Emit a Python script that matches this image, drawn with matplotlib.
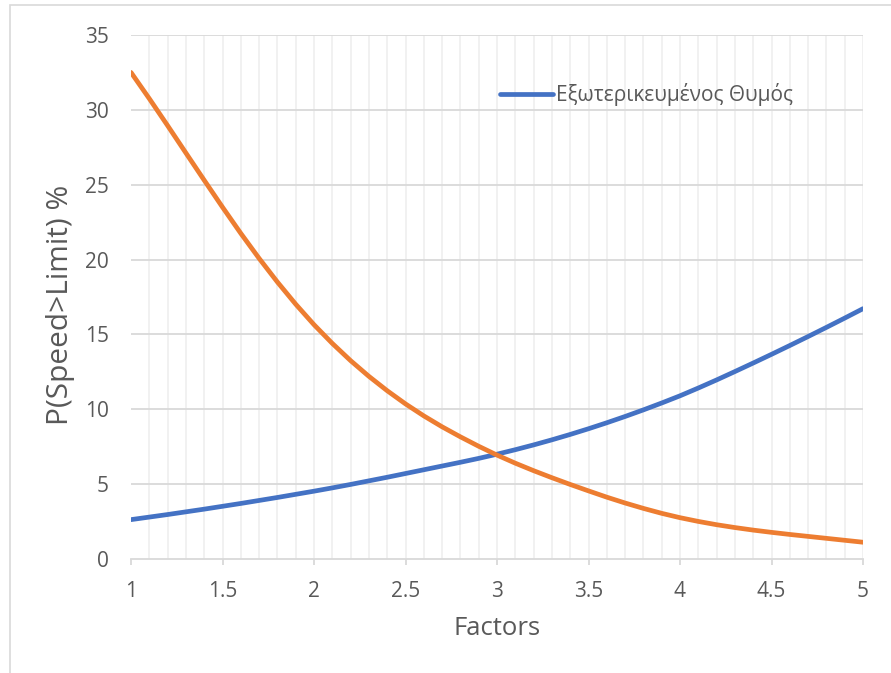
import numpy as np
import matplotlib
matplotlib.use("Agg")
import matplotlib.pyplot as plt
from matplotlib.patches import Rectangle

plt.rcParams['font.family'] = ['Open Sans', 'DejaVu Sans']

# data (step 0.1)
factors = [1.0, 1.1, 1.2, 1.3, 1.4, 1.5, 1.6, 1.7, 1.8, 1.9,
           2.0, 2.1, 2.2, 2.3, 2.4, 2.5, 2.6, 2.7, 2.8, 2.9,
           3.0, 3.1, 3.2, 3.3, 3.4, 3.5, 3.6, 3.7, 3.8, 3.9,
           4.0, 4.1, 4.2, 4.3, 4.4, 4.5, 4.6, 4.7, 4.8, 4.9, 5.0]
thymos = [2.63, 2.80, 2.97, 3.15, 3.33, 3.52, 3.71, 3.91, 4.11, 4.32,
          4.53, 4.75, 4.98, 5.22, 5.46, 5.71, 5.96, 6.21, 6.46, 6.72,
          7.00, 7.30, 7.62, 7.96, 8.32, 8.70, 9.10, 9.52, 9.96, 10.42,
          10.90, 11.42, 11.96, 12.52, 13.09, 13.67, 14.26, 14.86, 15.47, 16.09, 16.72]
other = [32.50, 30.75, 28.95, 27.12, 25.30, 23.50, 21.75, 20.08, 18.50, 17.02,
         15.65, 14.40, 13.25, 12.20, 11.24, 10.36, 9.56, 8.83, 8.16, 7.53,
         6.94, 6.40, 5.90, 5.43, 4.98, 4.55, 4.13, 3.74, 3.38, 3.05,
         2.76, 2.51, 2.29, 2.10, 1.93, 1.78, 1.64, 1.51, 1.38, 1.25, 1.12]
legend_label = "Εξωτερικευμένος Θυμός"

grid_major = '#d9d9d9'
grid_minor = '#f0f0f0'
txt = '#595959'

fig = plt.figure(figsize=(8.91, 6.73), dpi=100)
# chart area border
fig.patches.append(Rectangle((10 / 891, -0.5), 2.0, 0.5 + 1 - 5 / 673,
                             transform=fig.transFigure, fill=False,
                             edgecolor=grid_major, lw=1.2))
ax = fig.add_axes([131 / 891, 1 - 559 / 673, 732 / 891, 524 / 673])

l1, = ax.plot(factors, thymos, color='#4472C4', lw=3.4, solid_capstyle='round',
              label=legend_label, zorder=3)
ax.plot(factors, other, color='#ED7D31', lw=3.4, solid_capstyle='round', zorder=3)

ax.set_xlim(1, 5)
ax.set_ylim(0, 35)
ax.set_xticks(np.arange(1, 5.01, 0.5))
ax.set_xticklabels(['1', '1.5', '2', '2.5', '3', '3.5', '4', '4.5', '5'])
ax.set_yticks(np.arange(0, 36, 5))

# vertical grid every 0.1, horizontal every 5
for xv in np.arange(1.1, 5.01, 0.1):
    ax.axvline(xv, color=grid_minor, lw=1.3, zorder=1)
for yv in range(5, 36, 5):
    ax.axhline(yv, color=grid_major, lw=1.3, zorder=1)

for s in ['top', 'right', 'left']:
    ax.spines[s].set_visible(False)
ax.spines['bottom'].set_color(grid_major)
ax.spines['bottom'].set_linewidth(1.3)

ax.tick_params(axis='x', length=4, width=1.3, color=grid_major,
               pad=12, labelsize=15, labelcolor=txt)
ax.tick_params(axis='y', length=0, pad=16, labelsize=15, labelcolor=txt)

ax.set_xlabel('Factors', fontsize=18.5, color=txt)
ax.set_ylabel('P(Speed>Limit) %', fontsize=21.5, color=txt)
ax.xaxis.set_label_coords(0.5, -0.108)
ax.yaxis.set_label_coords(-0.077, 0.485)

ax.legend(handles=[l1], loc='center left', bbox_to_anchor=(500 / 891, 1 - 95 / 673),
          bbox_transform=fig.transFigure, frameon=False, fontsize=15,
          handlelength=2.55, handletextpad=0.12, labelcolor=txt, borderaxespad=0,
          borderpad=0)

fig.savefig('out.png', dpi=100)
